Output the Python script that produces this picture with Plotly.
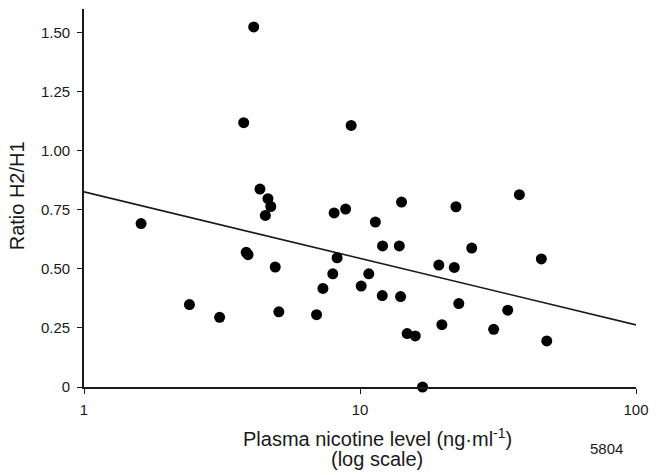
import plotly.graph_objects as go

# Plasma nicotine level (ng/ml) and ratio H2/H1
nicotine = [1.61, 2.41, 3.10, 3.79, 4.12, 3.87, 3.93, 4.34, 4.64, 4.75,
            4.54, 4.93, 5.08, 6.96, 7.34, 7.97, 8.26, 8.06, 8.87, 9.29,
            10.1, 10.76, 11.37, 12.07, 12.04, 13.88, 14.03, 14.14, 14.82, 15.86,
            16.85, 19.3, 19.8, 21.96, 22.27, 22.8, 25.4, 30.5, 34.3, 37.8,
            45.4, 47.5]
ratio = [0.692, 0.349, 0.295, 1.119, 1.524, 0.570, 0.560, 0.838, 0.797, 0.764,
         0.726, 0.508, 0.318, 0.306, 0.417, 0.479, 0.547, 0.737, 0.753, 1.107,
         0.427, 0.479, 0.698, 0.597, 0.387, 0.597, 0.383, 0.783, 0.226, 0.216,
         0.0, 0.516, 0.264, 0.506, 0.763, 0.353, 0.588, 0.244, 0.325, 0.814,
         0.542, 0.195]

# Regression line end points
fit_x = [1, 100]
fit_y = [0.826, 0.263]

y_tickvals = [0, 0.25, 0.5, 0.75, 1.0, 1.25, 1.5]
y_ticktext = ["0", "0.25", "0.50", "0.75", "1.00", "1.25", "1.50"]
x_tickvals = [1, 10, 100]
x_ticktext = ["1", "10", "100"]

FONT = "Liberation Sans, Arial, Helvetica, sans-serif"
INK = "#1a1a1a"

fig = go.Figure()
fig.add_trace(go.Scatter(x=fit_x, y=fit_y, mode="lines",
                         line=dict(color=INK, width=1.6), hoverinfo="skip",
                         showlegend=False))
fig.add_trace(go.Scatter(x=nicotine, y=ratio, mode="markers",
                         marker=dict(color="black", size=11),
                         cliponaxis=False, showlegend=False))

fig.update_layout(
    width=658, height=475,
    margin=dict(l=84, r=13, t=9, b=88),
    paper_bgcolor="white", plot_bgcolor="white",
    font=dict(family=FONT, color=INK, size=15),
    xaxis=dict(type="log", range=[0, 2], tickvals=x_tickvals, ticktext=x_ticktext,
               showline=True, linecolor=INK, linewidth=1.6,
               ticks="outside", ticklen=5, tickwidth=1.4, tickcolor=INK,
               showgrid=False, zeroline=False, ticklabelstandoff=3,
               tickfont=dict(size=15, family=FONT, color=INK)),
    yaxis=dict(range=[0, 1.6], tickvals=y_tickvals, ticktext=y_ticktext,
               showline=True, linecolor=INK, linewidth=1.6,
               ticks="outside", ticklen=5, tickwidth=1.4, tickcolor=INK,
               showgrid=False, zeroline=False, ticklabelstandoff=4,
               tickfont=dict(size=15, family=FONT, color=INK)),
    annotations=[
        dict(text="Ratio H2/H1", textangle=-90, xref="paper", yref="paper",
             x=-0.121, y=0.505, xanchor="center", yanchor="middle", showarrow=False,
             font=dict(size=20, family=FONT, color=INK)),
        dict(text="Plasma nicotine level (ng\u00b7ml<sup>-1</sup>)", xref="paper", yref="paper",
             x=0.531, y=-0.1323, xanchor="center", yanchor="middle", showarrow=False,
             font=dict(size=20, family=FONT, color=INK)),
        dict(text="(log scale)", xref="paper", yref="paper",
             x=0.531, y=-0.190, xanchor="center", yanchor="middle", showarrow=False,
             font=dict(size=20, family=FONT, color=INK)),
        dict(text="5804", xref="paper", yref="paper",
             x=0.9465, y=-0.1614, xanchor="center", yanchor="middle", showarrow=False,
             font=dict(size=15, family=FONT, color=INK)),
    ],
)

fig.write_html("out.html")
